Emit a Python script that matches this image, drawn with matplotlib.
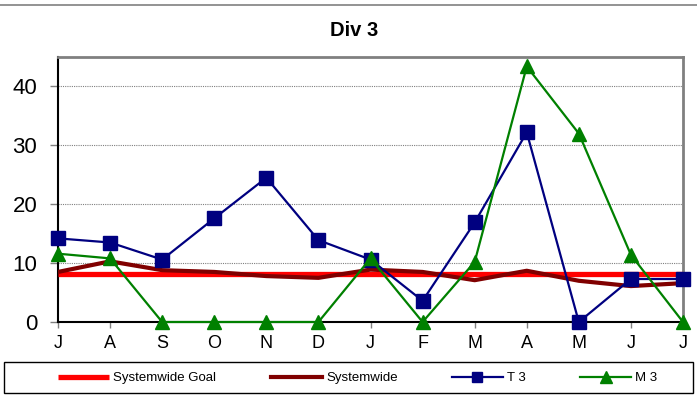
import matplotlib
matplotlib.use("Agg")
import matplotlib.pyplot as plt
from matplotlib.lines import Line2D
from matplotlib.patches import Rectangle

plt.rcParams['font.family'] = ['Liberation Sans', 'DejaVu Sans']

months = ["J", "A", "S", "O", "N", "D", "J", "F", "M", "A", "M", "J", "J"]
goal = [8.2] * 13
systemwide = [8.5, 10.3, 8.8, 8.5, 7.8, 7.5, 8.9, 8.5, 7.1, 8.7, 7.0, 6.1, 6.6]
t3 = [14.2, 13.5, 10.6, 17.6, 24.5, 13.9, 10.6, 3.6, 16.9, 32.2, 0.0, 7.3, 7.3]
m3 = [11.6, 10.8, 0.0, 0.0, 0.0, 0.0, 10.8, 0.0, 10.2, 43.4, 32.0, 11.4, 0.0]
yticks = [0, 10, 20, 30, 40]

fig = plt.figure(figsize=(6.97, 3.96), dpi=100)
ax = fig.add_axes([58/697, 1-322/396, (683-58)/697, (322-57)/396])

x = list(range(len(months)))
l1, = ax.plot(x, goal, color="#ff0000", lw=3.8, label="Systemwide Goal", zorder=3, solid_capstyle='butt')
l2, = ax.plot(x, systemwide, color="#800000", lw=3.0, label="Systemwide", zorder=4)
l3, = ax.plot(x, t3, color="#000080", lw=1.6, marker="s", ms=9.5, label="T 3", zorder=5, clip_on=False)
l4, = ax.plot(x, m3, color="#008000", lw=1.6, marker="^", ms=10, label="M 3", zorder=6, clip_on=False)

ax.set_xlim(0, 12)
ax.set_ylim(0, 45)
ax.set_yticks(yticks)
ax.set_xticks(x)
ax.set_xticklabels(months)
ax.tick_params(axis='y', labelsize=16, length=6, width=1, color="#808080", pad=9)
ax.tick_params(axis='x', labelsize=13, length=4, width=1, color="#808080", pad=5)
ax.yaxis.grid(True, color="#808080", ls=(0, (1, 1)), lw=0.8)
ax.set_axisbelow(True)

for s in ["left", "bottom"]:
    ax.spines[s].set_color("black")
    ax.spines[s].set_linewidth(1.5)
for s in ["top", "right"]:
    ax.spines[s].set_color("#808080")
    ax.spines[s].set_linewidth(2)

fig.text(354/697, 1-31/396, "Div 3", ha="center", va="center", fontsize=14.5, fontweight="bold")

fig.add_artist(Line2D([0, 1], [1-5/396, 1-5/396], color="#808080", lw=1.2))

# legend frame
fig.add_artist(Rectangle((4/697, 1-393/396), 689/697, 31/396, transform=fig.transFigure,
                         facecolor="white", edgecolor="black", lw=1.0, zorder=1))

leg = fig.legend(handles=[l1, l2, l3, l4], loc="center left", ncol=4,
                 bbox_to_anchor=(58/697, 1-378/396),
                 fontsize=9.5, frameon=False, handlelength=3.9, handletextpad=0.3,
                 columnspacing=4.1, borderpad=0, borderaxespad=0, markerscale=0.8)
leg.set_zorder(2)

fig.savefig("out.png", dpi=100)
